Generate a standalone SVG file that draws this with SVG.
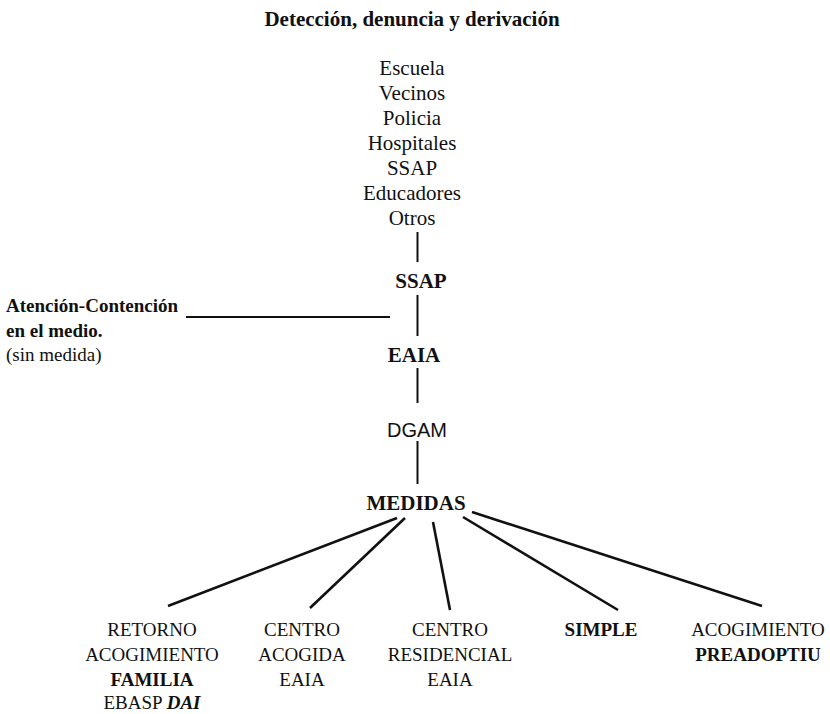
<svg xmlns="http://www.w3.org/2000/svg" width="830" height="714" viewBox="0 0 830 714">
<style>
text{font-family:"Liberation Serif","Times New Roman",serif;fill:#111;}
.c{text-anchor:middle;}
.b{font-weight:bold;}
.t{font-size:21px;}
.s{font-size:19px;}
.sans{font-family:"Liberation Sans",Arial,sans-serif;font-size:20px;}
.ln{stroke:#111;stroke-width:2;fill:none;stroke-linecap:butt;}
.lw{stroke:#111;stroke-width:2.6;fill:none;}
</style>
<rect width="830" height="714" fill="#fff"/>
<g id="title"><text class="c b t" x="412" y="26">Detección, denuncia y derivación</text></g>
<g id="sources">
<text class="c t" x="412" y="75">Escuela</text>
<text class="c t" x="412" y="100">Vecinos</text>
<text class="c t" x="412" y="125">Policia</text>
<text class="c t" x="412" y="150">Hospitales</text>
<text class="c t" x="412" y="175">SSAP</text>
<text class="c t" x="412" y="200">Educadores</text>
<text class="c t" x="412" y="225">Otros</text>
</g>
<g id="ssap"><text class="c b t" x="421" y="288">SSAP</text></g>
<g id="atencion">
<text class="b s" x="6" y="312">Atención-Contención</text>
<text class="b s" x="6" y="337">en el medio.</text>
<text class="s" x="6" y="361">(sin medida)</text>
</g>
<g id="eaia"><text class="c b t" x="414" y="362">EAIA</text></g>
<g id="dgam"><text class="c sans" x="417" y="437">DGAM</text></g>
<g id="medidas"><text class="c b t" x="416" y="510">MEDIDAS</text></g>
<g id="retorno">
<text class="c s" x="152" y="636">RETORNO</text>
<text class="c s" x="152" y="661">ACOGIMIENTO</text>
<text class="c s b" x="152" y="686">FAMILIA</text>
<text class="c s" x="152" y="709">EBASP <tspan font-weight="bold" font-style="italic">DAI</tspan></text>
</g>
<g id="centro-acogida">
<text class="c s" x="302" y="636">CENTRO</text>
<text class="c s" x="302" y="661">ACOGIDA</text>
<text class="c s" x="302" y="686">EAIA</text>
</g>
<g id="centro-residencial">
<text class="c s" x="450" y="636">CENTRO</text>
<text class="c s" x="450" y="661">RESIDENCIAL</text>
<text class="c s" x="450" y="686">EAIA</text>
</g>
<g id="simple"><text class="c s b" x="601" y="636">SIMPLE</text></g>
<g id="preadoptiu">
<text class="c s" x="758" y="636">ACOGIMIENTO</text>
<text class="c s b" x="758" y="661">PREADOPTIU</text>
</g>
<g id="connectors">
<line class="ln" x1="417.5" y1="232" x2="417.5" y2="262"/>
<line class="ln" x1="417.5" y1="295" x2="417.5" y2="336"/>
<line class="ln" x1="186" y1="317" x2="390" y2="317"/>
<line class="ln" x1="417.5" y1="368" x2="417.5" y2="403"/>
<line class="ln" x1="417.5" y1="441" x2="417.5" y2="484"/>
<line class="lw" x1="397" y1="518" x2="168" y2="606"/>
<line class="lw" x1="405" y1="518" x2="310" y2="608"/>
<line class="lw" x1="433" y1="522" x2="450" y2="610"/>
<line class="lw" x1="463" y1="517" x2="618" y2="610"/>
<line class="lw" x1="472" y1="512" x2="762" y2="606"/>
</g>
</svg>
